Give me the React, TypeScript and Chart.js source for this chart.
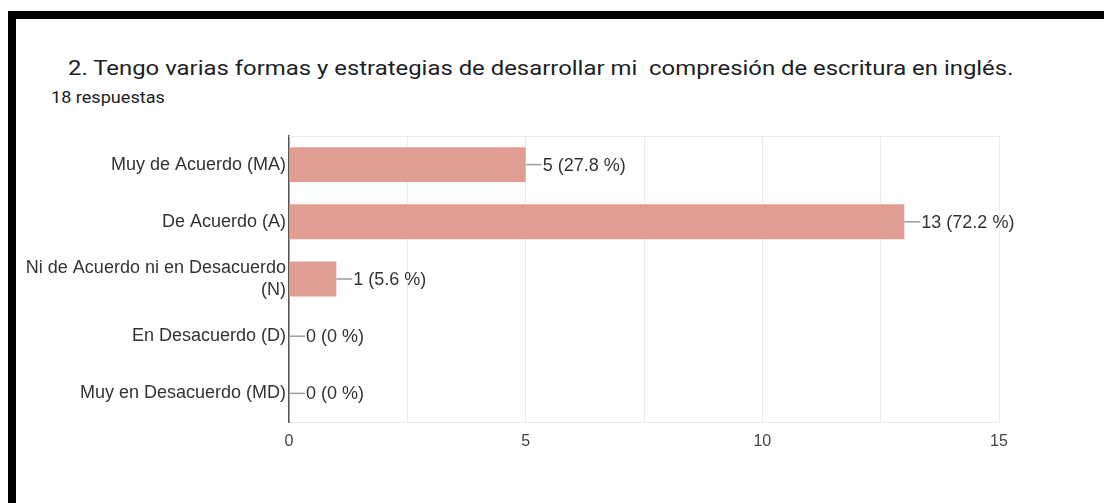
import React, { useEffect, useRef } from "react";
import { Chart, registerables } from "chart.js";

Chart.register(...registerables);

const TITLE = "2. Tengo varias formas y estrategias de desarrollar mi  compresión de escritura en inglés.";
const SUBTITLE = "18 respuestas";
const categories: (string | string[])[] = [
  "Muy de Acuerdo (MA)",
  "De Acuerdo (A)",
  ["Ni de Acuerdo ni en Desacuerdo", "(N)"],
  "En Desacuerdo (D)",
  "Muy en Desacuerdo (MD)",
];
const counts = [5, 13, 1, 0, 0];
const percentLabels = ["27.8 %", "72.2 %", "5.6 %", "0 %", "0 %"];
const xTickLabels = ["0", "5", "10", "15"];

const FONT = "'Liberation Sans', Arial, sans-serif";

const labelPlugin = {
  id: "barLabels",
  afterDatasetsDraw(chart: any) {
    const ctx = chart.ctx;
    const meta = chart.getDatasetMeta(0);
    ctx.save();
    meta.data.forEach((bar: any, i: number) => {
      const x = bar.x;
      const y = bar.y;
      ctx.strokeStyle = "#9e9e9e";
      ctx.lineWidth = 1.5;
      ctx.beginPath();
      ctx.moveTo(x, y);
      ctx.lineTo(x + 16, y);
      ctx.stroke();
      ctx.fillStyle = "#333333";
      ctx.font = `18px ${FONT}`;
      ctx.textAlign = "left";
      ctx.textBaseline = "middle";
      ctx.fillText(`${counts[i]} (${percentLabels[i]})`, x + 17, y + 1);
    });
    ctx.restore();
  },
  beforeDatasetsDraw(chart: any) {
    const { ctx, chartArea } = chart;
    ctx.save();
    ctx.strokeStyle = "#ebebeb";
    ctx.lineWidth = 1;
    ctx.beginPath();
    ctx.moveTo(chartArea.left, chartArea.top + 0.5);
    ctx.lineTo(chartArea.right, chartArea.top + 0.5);
    ctx.stroke();
    ctx.restore();
  },
};

export default function App() {
  const ref = useRef<HTMLCanvasElement | null>(null);
  useEffect(() => {
    if (!ref.current) return;
    const chart = new Chart(ref.current, {
      type: "bar",
      data: {
        labels: categories,
        datasets: [
          {
            data: counts,
            backgroundColor: "#e19d94",
            borderWidth: 0,
            barPercentage: 0.61,
            categoryPercentage: 1,
          },
        ],
      },
      options: {
        indexAxis: "y",
        responsive: false,
        animation: false,
        layout: { padding: { top: 136, right: 105, bottom: 51, left: 0 } },
        plugins: { legend: { display: false }, tooltip: { enabled: false } },
        scales: {
          x: {
            min: 0,
            max: 15,
            afterFit: (s: any) => {
              s.height = 30;
            },
            afterBuildTicks: (s: any) => {
              s.ticks = [0, 2.5, 5, 7.5, 10, 12.5, 15].map((v) => ({ value: v }));
            },
            ticks: {
              autoSkip: false,
              maxRotation: 0,
              padding: 10,
              color: "#444444",
              font: { family: FONT, size: 16 },
              callback: (v: any) => {
                const idx = [0, 5, 10, 15].indexOf(Number(v));
                return idx >= 0 ? xTickLabels[idx] : "";
              },
            },
            grid: { color: "#ebebeb", drawTicks: false, lineWidth: 1 },
            border: { color: "#ebebeb" },
          },
          y: {
            afterFit: (s: any) => {
              s.width = 289;
            },
            ticks: {
              padding: 3,
              color: "#333333",
              font: { family: FONT, size: 18, lineHeight: 1.22 },
            },
            grid: { display: false, drawTicks: false },
            border: { color: "#555555", width: 1.5 },
          },
        },
      },
      plugins: [labelPlugin],
    } as any);
    return () => chart.destroy();
  }, []);

  return (
    <div style={{ position: "relative", width: 1104, height: 503, background: "#fff", overflow: "hidden" }}>
      <style>{`body{margin:0}`}</style>
      <div style={{ position: "absolute", left: 8, top: 11, width: 1096, height: 8, background: "#000" }} />
      <div style={{ position: "absolute", left: 8, top: 11, width: 8, height: 492, background: "#000" }} />
      <div
        style={{
          position: "absolute",
          left: 68,
          top: 58,
          fontFamily: "Roboto, sans-serif",
          fontSize: 21,
          lineHeight: "21px",
          color: "#202124",
          whiteSpace: "pre",
          transform: "scaleX(1.138)",
          transformOrigin: "left top",
        }}
      >
        {TITLE}
      </div>
      <div
        style={{
          position: "absolute",
          left: 51,
          top: 90,
          fontFamily: "Roboto, sans-serif",
          fontSize: 16,
          lineHeight: "15px",
          color: "#202124",
          whiteSpace: "pre",
          transform: "scaleX(1.13)",
          transformOrigin: "left top",
        }}
      >
        {SUBTITLE}
      </div>
      <canvas ref={ref} width={1104} height={503} style={{ position: "absolute", left: 0, top: 0, display: "block" }} />
    </div>
  );
}
